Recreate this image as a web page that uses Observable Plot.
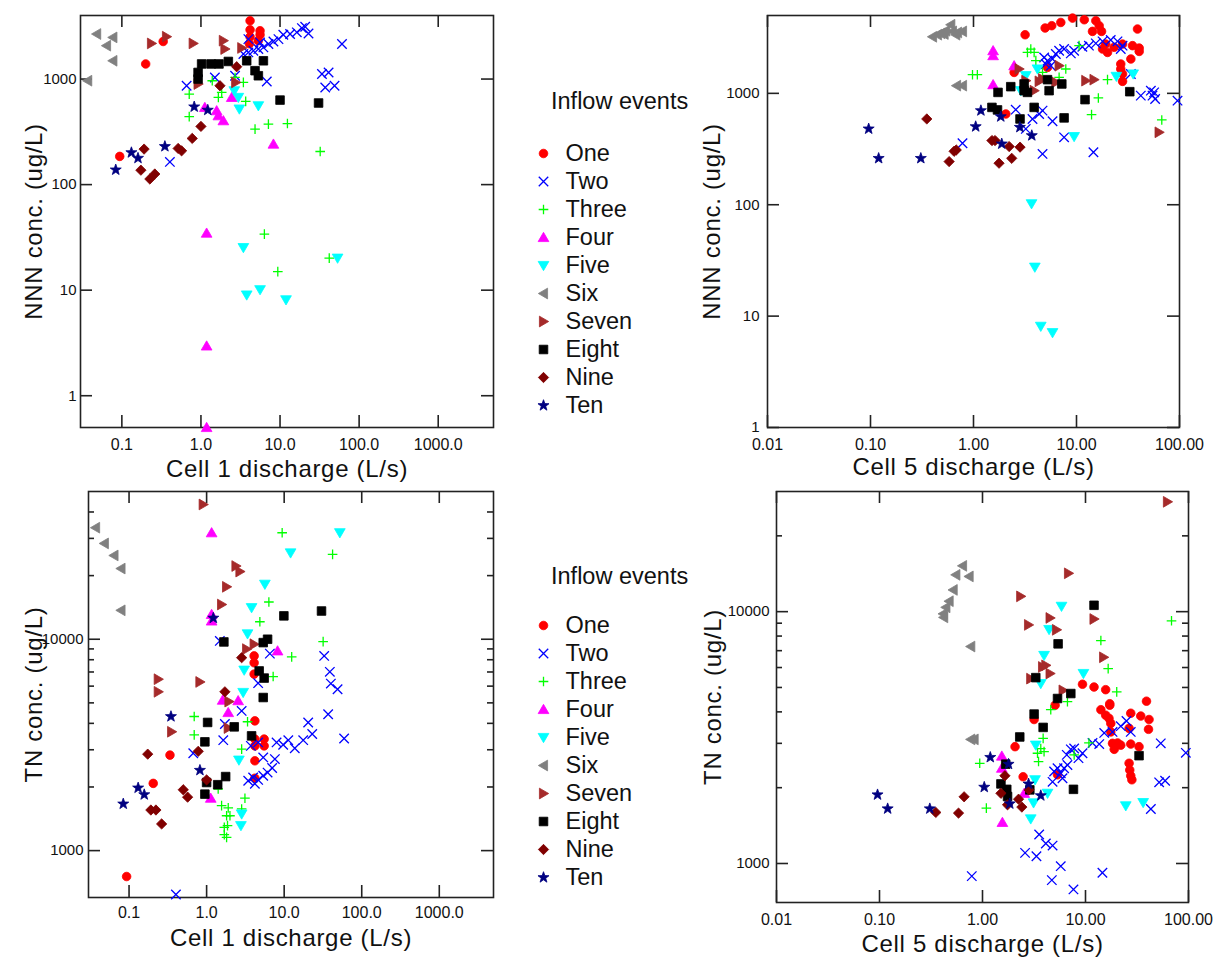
<!DOCTYPE html>
<html>
<head>
<meta charset="utf-8">
<script src="https://cdn.jsdelivr.net/npm/d3@7"></script>
<script src="https://cdn.jsdelivr.net/npm/@observablehq/plot@0.6"></script>
<style>
  html, body { margin: 0; padding: 0; background: #fff; }
  #root { position: relative; width: 1222px; height: 959px; overflow: hidden;
          font-family: "Liberation Sans", Arial, sans-serif; color: #111; }
  .panel { position: absolute; }
  .panel g[aria-label="text"] text.title { letter-spacing: 0.7px; }
  .ltitle { position: absolute; font-size: 23.5px; line-height: 1; white-space: nowrap; color: #111; }
</style>
</head>
<body>
<div id="root"></div>
<script>
// ---------- series definitions ----------
const seriesNames  = ["One","Two","Three","Four","Five","Six","Seven","Eight","Nine","Ten"];
const seriesColors = ["#ff0000","#0000ff","#00ff00","#ff00ff","#00ffff","#808080","#a52a2a","#000000","#800000","#000080"];
const legendTitle = "Inflow events";

// ---------- tick values and labels ----------
const xTicksCell1 = [0.1, 1, 10, 100, 1000];
const xTicksCell5 = [0.01, 0.1, 1, 10, 100];
const yTicksNNN   = [1, 10, 100, 1000];
const yTicksTN    = [1000, 10000];
const yMinorTN1   = [2000,3000,4000,5000,6000,7000,8000,9000,20000,30000,40000];
const yMinorTN5   = [2000,3000,4000,5000,6000,7000,8000,9000,20000];

// ---------- Panel A: Cell 1 discharge vs NNN ----------
const c1nnnOne   = [[0.20,1390],[0.333,2270],[0.094,185],[4.18,3570],[4.18,2930],[4.18,2515],[4.1,2160],[5.59,2870],[5.59,2630],[5.3,2310]];
const c1nnnTwo   = [[0.659,864],[1.50,1035],[2.70,1075],[6.8,949],[0.405,164],[60.7,2150],[33.9,1115],[41.1,1155],[37.3,832],[48.9,864],[3.44,1725],[3.98,1788],[4.60,1855],[5.32,1925],[6.16,1995],[7.13,2150],[8.25,2270],[9.55,2390],[11.0,2630],[13.4,2670],[16.3,2770],[18.9,3040],[20.8,3130],[22.9,2700],[3.98,2390],[5.59,2220]];
const c1nnnThree = [[1.39,964],[2.70,1035],[3.44,929],[1.66,670],[1.83,747],[0.711,720],[0.711,440],[3.68,614],[4.83,335],[7.13,374],[12.4,379],[32.2,206],[6.34,34],[9.37,15.0],[41.9,20.1]];
const c1nnnFour  = [[1.12,538],[1.58,501],[1.66,449],[1.92,403],[2.45,670],[8.25,242],[1.18,34.7],[1.18,2.96],[1.18,0.5]];
const c1nnnFive  = [[2.64,774],[2.97,670],[3.06,520],[5.32,558],[3.44,25.3],[3.79,9.0],[5.59,10.1],[11.9,8.1],[53.4,20.1]];
const c1nnnSix   = [[0.048,2670],[0.077,2480],[0.064,2070],[0.077,1490],[0.037,964]];
const c1nnnSeven = [[0.237,2175],[0.367,2520],[0.798,2175],[1.92,2310],[2.01,1925],[3.28,1970],[0.92,897],[2.75,929]];
const c1nnnEight = [[0.92,1155],[0.92,1000],[1.02,1390],[1.34,1390],[1.69,1390],[2.22,1468],[3.79,1490],[4.83,1200],[5.32,1075],[6.16,1490],[10.0,632],[30.7,593]];
const c1nnnNine  = [[2.83,1308],[1.74,864],[1.0,356],[0.776,274],[0.515,220],[0.569,209],[0.191,217],[0.174,137],[0.226,113],[0.261,126]];
const c1nnnTen   = [[0.822,546],[1.22,508],[0.132,201],[0.16,178],[0.35,230],[0.0837,138]];

// ---------- Panel B: Cell 5 discharge vs NNN ----------
const c5nnnOne   = [[3.17,3360],[4.96,3860],[5.75,4050],[7.04,4330],[9.15,4740],[11.9,4580],[15.4,4490],[16.6,4050],[17.5,3600],[14.3,3600],[39.1,3780],[19.2,2770],[17.9,2500],[20.0,2330],[23.2,2590],[28.0,2770],[35.0,2680],[40.6,2550],[40.6,2380],[33.7,2035],[26.9,1835],[26.9,1655],[28.0,1493],[28.0,1282],[2.48,1542],[2.06,653],[5.23,1710]];
const c5nnnTwo   = [[2.57,714],[3.22,480],[3.74,589],[4.34,653],[4.68,700],[5.85,561],[4.68,286],[7.58,403],[14.6,296],[0.782,356],[4.85,2100],[5.23,1965],[5.85,2035],[6.3,2255],[6.78,2415],[7.58,2500],[8.81,2285],[9.48,2415],[11.4,2620],[13.2,2680],[15.4,2810],[17.9,2930],[21.5,3010],[25.0,2930],[28.0,2680],[26.9,2500],[5.04,1835],[5.63,1770],[33.7,1493],[42.1,954],[52.7,1057],[54.7,954],[56.7,1020],[58,891],[95.7,860]];
const c5nnnThree = [[0.978,1470],[1.09,1470],[3.34,2330],[3.6,2500],[3.88,2330],[4.03,1965],[4.68,1542],[7.87,1655],[6.78,1390],[10.6,2680],[20.0,1327],[16.3,909],[14.0,644],[67.3,577]];
const c5nnnFour  = [[1.55,2415],[1.55,2180],[1.55,1197],[2.48,1770]];
const c5nnnFive  = [[3.22,1441],[4.18,1655],[2.88,1057],[9.48,409],[24.4,1420],[35.5,1493],[3.66,102],[3.94,27.5],[4.5,8.1],[5.85,7.1]];
const c5nnnSix   = [[0.40,3220],[0.447,3360],[0.482,3450],[0.518,3410],[0.538,3650],[0.602,4130],[0.625,3600],[0.673,3360],[0.70,3520],[0.782,3600],[0.684,1172],[0.782,1172]];
const c5nnnSeven = [[2.77,1655],[4.34,1282],[6.3,1255],[6.78,1770],[12.3,1300],[14.8,1327],[63.4,447],[3.22,1300],[4.68,1346],[3.88,1057]];
const c5nnnEight = [[1.73,1020],[2.3,1148],[3.1,1214],[3.1,1057],[3.34,1020],[5.23,1327],[5.42,1057],[7.2,1214],[1.51,748],[1.71,710],[2.83,589],[3.88,748],[7.58,602],[12.1,878],[32.9,1035]];
const c5nnnNine  = [[0.352,589],[0.648,302],[0.68,310],[0.58,244],[1.51,377],[1.62,377],[2.22,333],[2.83,329],[2.35,261],[1.77,236]];
const c5nnnTen   = [[0.096,480],[0.12,261],[0.308,261],[1.05,503],[1.18,700],[1.84,618],[2.82,496],[1.88,352],[3.68,418]];

// ---------- Panel C: Cell 1 discharge vs TN ----------
const c1tnOne   = [[4.1,8340],[4.1,7740],[4.1,6840],[4.19,4110],[4.19,3370],[5.52,3370],[5.52,3130],[4.19,3130],[4.19,2660],[4.19,2200],[0.337,2830],[0.205,2080],[0.093,754]];
const c1tnTwo   = [[6.54,8550],[32.8,8340],[38.8,7010],[40.0,6170],[48.8,5800],[4.62,6200],[1.48,9820],[2.83,4580],[1.72,3970],[1.64,3330],[0.673,2890],[4.62,3250],[3.72,3130],[5.37,2760],[7.59,2710],[7.98,3250],[9.71,3170],[11.3,3330],[13.7,3050],[17.6,3330],[20.4,4040],[23.0,3560],[36.9,4420],[59.3,3390],[3.44,2140],[3.98,2220],[4.19,2070],[4.62,2160],[5.37,2260],[6.11,2340],[7.0,2460],[0.402,620]];
const c1tnThree = [[9.42,31900],[42.1,25200],[6.35,15000],[4.86,12100],[31.8,9750],[12.5,8250],[7.21,6660],[0.692,4310],[0.692,3530],[3.37,4070],[2.83,3020],[1.41,1956],[3.12,1770],[2.83,1574],[1.56,1633],[1.9,1592],[1.81,1462],[2.0,1462],[1.69,1288],[1.86,1312],[1.69,1190],[1.81,1155]];
const c1tnFour  = [[1.16,31900],[1.16,13100],[1.16,12200],[8.22,8810],[1.61,5150],[2.55,5120],[1.9,4500],[1.13,1770]];
const c1tnFive  = [[52.2,31900],[12.1,25600],[5.64,18200],[3.8,14100],[3.37,10600],[3.05,7140],[2.96,5600],[2.61,2680],[2.83,1490],[2.77,1312]];
const c1tnSix   = [[0.037,33700],[0.048,28400],[0.0639,24900],[0.0787,21600],[0.0787,13700]];
const c1tnSeven = [[0.904,43400],[2.39,22200],[2.69,20900],[1.81,17700],[1.56,14600],[0.238,6470],[0.82,6280],[0.238,5640],[3.28,8980],[4.1,9470],[1.94,5070],[0.354,3650],[1.9,3800]];
const c1tnEight = [[9.91,12900],[30.3,13600],[1.67,9710],[5.37,9640],[6.11,10000],[4.76,7080],[5.52,6550],[5.37,5300],[1.03,4040],[2.27,3850],[3.8,3490],[0.95,3270],[1.76,2240],[1.39,2050],[1.0,2100],[0.95,1850]];
const c1tnNine  = [[2.83,8180],[1.72,5640],[0.174,2860],[0.78,2950],[1.0,2160],[0.5,1940],[0.569,1790],[0.191,1556],[0.222,1556],[0.263,1337]];
const c1tnTen   = [[1.22,12600],[0.347,4310],[0.82,2400],[0.131,1980],[0.157,1840],[0.0842,1663]];

// ---------- Panel D: Cell 5 discharge vs TN ----------
const c5tnOne   = [[9.35,5150],[12.1,5020],[15.7,4900],[17.2,4310],[39.1,4410],[5.07,4250],[3.17,3730],[2.07,2910],[2.48,2210],[5.35,2250],[14.1,4080],[15.7,3880],[16.9,3770],[17.6,3600],[17.2,4250],[27.5,3950],[34.4,3850],[41.4,3730],[40.9,3410],[26.5,3440],[18.3,3000],[20.5,3010],[22.0,2950],[27.5,2980],[19.0,2840],[33.1,2910],[26.5,2500],[26.9,2350],[27.5,2230],[28.2,2150],[17.6,3330]];
const c5tnTwo   = [[3.55,1303],[4.12,1200],[4.79,1178],[2.59,1102],[3.34,1069],[5.75,976],[4.71,859],[7.64,789],[14.6,919],[0.787,891],[4.79,2110],[4.96,2320],[5.35,2390],[5.75,2280],[5.98,2180],[6.2,2390],[6.68,2460],[6.58,2700],[7.2,2840],[7.76,2860],[8.55,2620],[9.35,2740],[11.7,3010],[13.6,2980],[15.2,3300],[18.3,3330],[22.0,3510],[25.0,3680],[27.5,3330],[53.8,3000],[94.2,2750],[51.9,2100],[59.3,2130],[43.1,1645]];
const c5tnThree = [[68.4,9200],[14.1,7680],[16.6,5940],[20.1,4800],[6.68,4390],[4.6,4080],[3.88,3140],[3.68,2860],[3.42,2740],[3.5,2540],[3.96,2780],[10.8,3010],[7.76,2700],[0.94,2500],[1.09,1660]];
const c5tnFour  = [[1.54,2670],[1.54,2390],[1.56,1456],[2.54,1900]];
const c5tnFive  = [[5.85,10500],[4.43,8490],[3.96,6700],[9.55,5680],[3.68,5180],[3.29,2950],[3.24,2150],[3.13,1740],[2.94,1503],[4.28,1900],[24.6,1694],[36.3,1745]];
const c5tnSix   = [[0.64,15200],[0.551,14000],[0.741,13800],[0.519,12200],[0.474,11000],[0.441,10400],[0.415,9800],[0.42,9490],[0.769,7270],[0.769,3110],[0.829,3110]];
const c5tnSeven = [[62.5,27300],[6.84,14200],[2.35,11500],[2.8,8860],[4.53,9440],[5.23,8470],[12.1,9350],[15.0,6590],[3.83,6030],[4.12,6120],[4.53,5680],[2.94,5420],[6.06,4870]];
const c5tnEight = [[12.1,10600],[5.42,7450],[3.29,5470],[5.35,4520],[7.2,4730],[3.17,3920],[3.88,3470],[2.3,3180],[33.1,2680],[1.68,2480],[1.51,2070],[1.72,1970],[1.75,1845],[2.88,1960],[7.64,1970]];
const c5tnNine  = [[1.65,2230],[1.51,1900],[1.75,1710],[2.24,1800],[2.41,1675],[2.83,1960],[0.663,1840],[0.585,1585],[0.352,1595]];
const c5tnTen   = [[0.0957,1875],[0.12,1650],[0.308,1650],[1.04,2010],[1.19,2640],[1.79,2480],[1.84,1727],[2.8,2070],[3.68,1860]];

// ---------- marker shapes ----------
function unit(size) { return Math.sqrt(size / Math.PI); }
function polySymbol(pts) {
  return { draw(ctx, size) {
    const h = unit(size);
    ctx.moveTo(pts[0][0] * h, pts[0][1] * h);
    for (let k = 1; k < pts.length; k++) ctx.lineTo(pts[k][0] * h, pts[k][1] * h);
    ctx.closePath();
  }};
}
const symCircle = { draw(ctx, size) { const h = unit(size); ctx.moveTo(h, 0); ctx.arc(0, 0, h, 0, 2 * Math.PI); } };
const symTimes  = { draw(ctx, size) { const h = unit(size) * 1.1; ctx.moveTo(-h, -h); ctx.lineTo(h, h); ctx.moveTo(-h, h); ctx.lineTo(h, -h); } };
const symPlus   = { draw(ctx, size) { const h = unit(size) * 1.12; ctx.moveTo(-h, 0); ctx.lineTo(h, 0); ctx.moveTo(0, -h); ctx.lineTo(0, h); } };
const symUp     = polySymbol([[0,-1.2],[1.25,0.95],[-1.25,0.95]]);
const symDown   = polySymbol([[0,1.2],[1.25,-0.95],[-1.25,-0.95]]);
const symLeft   = polySymbol([[-1.2,0],[0.95,-1.25],[0.95,1.25]]);
const symRight  = polySymbol([[1.2,0],[-0.95,-1.25],[-0.95,1.25]]);
const symSquare = polySymbol([[-1,-1],[1,-1],[1,1],[-1,1]]);
const symDiam   = polySymbol([[0,-1.2],[1.2,0],[0,1.2],[-1.2,0]]);
const symStar   = { draw(ctx, size) {
  const h = unit(size), R = 1.35 * h, r = 0.55 * h;
  for (let k = 0; k < 10; k++) {
    const a = -Math.PI / 2 + k * Math.PI / 5, rad = k % 2 ? r : R;
    const px = rad * Math.cos(a), py = rad * Math.sin(a);
    if (k) ctx.lineTo(px, py); else ctx.moveTo(px, py);
  }
  ctx.closePath();
}};
const seriesSymbols = [symCircle, symTimes, symPlus, symUp, symDown, symLeft, symRight, symSquare, symDiam, symStar];
const strokeOnly = [false, true, true, false, false, false, false, false, false, false];

const FONT = "'Liberation Sans', Arial, Helvetica, sans-serif";
const AXIS = "#222";
const root = document.getElementById("root");

function seriesMarks(list) {
  return list.map((pts, i) => Plot.dot(pts, {
    x: d => d[0], y: d => d[1],
    symbol: seriesSymbols[i],
    fill: strokeOnly[i] ? "none" : seriesColors[i],
    stroke: seriesColors[i],
    strokeWidth: strokeOnly[i] ? 1.3 : 0.8,
    r: 4.3
  }));
}

function buildPanel(cfg) {
  const fw = cfg.width - cfg.mL - cfg.mR;   // frame width in px
  const fh = cfg.height - cfg.mT - cfg.mB;  // frame height in px
  const tk = { stroke: AXIS, strokeWidth: 1.6 };
  const marks = [
    Plot.frame({ stroke: AXIS, strokeWidth: 1.6 }),
    // inward major ticks on all four sides
    Plot.tickX(cfg.xTicks, { ...tk, x: d => d, insetTop: fh - 12 }),
    Plot.tickX(cfg.xTicks, { ...tk, x: d => d, insetBottom: fh - 12 }),
    Plot.tickY(cfg.yTicks, { ...tk, y: d => d, insetRight: fw - 12 }),
    Plot.tickY(cfg.yTicks, { ...tk, y: d => d, insetLeft: fw - 12 })
  ];
  if (cfg.yMinor) {
    marks.push(Plot.tickY(cfg.yMinor, { ...tk, y: d => d, insetRight: fw - 6 }));
    marks.push(Plot.tickY(cfg.yMinor, { ...tk, y: d => d, insetLeft: fw - 6 }));
  }
  marks.push(Plot.axisX({ anchor: "bottom", ticks: cfg.xTicks, tickSize: 0, tickPadding: cfg.xPad,
    tickFormat: cfg.xFmt, fontSize: 16, label: null, fill: "#111" }));
  marks.push(Plot.axisY({ anchor: "left", ticks: cfg.yTicks, tickSize: 0, tickPadding: cfg.yPad,
    tickFormat: d3.format("d"), fontSize: 15, label: null, fill: "#111" }));
  marks.push(...seriesMarks(cfg.series));
  marks.push(Plot.text([cfg.xLabel], { frameAnchor: "bottom", dy: cfg.xLabelDy, text: d => d,
    textAnchor: "middle", lineAnchor: "middle", fontSize: 24, fill: "#111" }));
  marks.push(Plot.text([cfg.yLabel], { frameAnchor: "left", dx: cfg.yLabelDx, rotate: -90, text: d => d,
    textAnchor: "middle", lineAnchor: "middle", fontSize: 24, fill: "#111" }));

  const svg = Plot.plot({
    width: cfg.width, height: cfg.height,
    marginLeft: cfg.mL, marginRight: cfg.mR, marginTop: cfg.mT, marginBottom: cfg.mB,
    x: { type: "log", domain: cfg.xDomain },
    y: { type: "log", domain: cfg.yDomain },
    style: { fontFamily: FONT, overflow: "visible", color: "#111", background: "transparent" },
    marks
  });
  // slightly wider tracking on the axis titles, as in the reference
  d3.select(svg).selectAll('g[aria-label="text"] text').classed("title", true);
  svg.classList.add("panel");
  svg.style.left = cfg.left + "px";
  svg.style.top = cfg.top + "px";
  root.appendChild(svg);
}

function buildLegend(left, top, height, firstRow, lastRow) {
  const marks = [];
  seriesNames.forEach((n, i) => {
    marks.push(Plot.dot([n], {
      y: d => d, frameAnchor: "left",
      symbol: seriesSymbols[i],
      fill: strokeOnly[i] ? "none" : seriesColors[i],
      stroke: seriesColors[i],
      strokeWidth: strokeOnly[i] ? 1.3 : 0.8, r: 4.3
    }));
  });
  marks.push(Plot.text(seriesNames, { y: d => d, frameAnchor: "left", dx: 22, text: d => d,
    textAnchor: "start", lineAnchor: "middle", fontSize: 23.5, fill: "#111" }));
  const svg = Plot.plot({
    width: 150, height,
    marginLeft: 13, marginRight: 0, marginTop: 0, marginBottom: 0,
    y: { type: "point", domain: seriesNames, range: [firstRow - top, lastRow - top], padding: 0, axis: null },
    style: { fontFamily: FONT, overflow: "visible", background: "transparent" },
    marks
  });
  svg.classList.add("panel");
  svg.style.left = left + "px";
  svg.style.top = top + "px";
  root.appendChild(svg);
}

function addTitle(text, left, top) {
  const d = document.createElement("div");
  d.className = "ltitle";
  d.textContent = text;
  d.style.left = left + "px";
  d.style.top = top + "px";
  root.appendChild(d);
}

// Panel A
buildPanel({
  left: 0, top: 0, width: 501, height: 480, mL: 80, mR: 8, mT: 15, mB: 53,
  xDomain: [0.03, 5000], yDomain: [0.5, 4000],
  xTicks: xTicksCell1, yTicks: yTicksNNN, xFmt: d3.format(".1f"),
  xPad: 11, yPad: 4, xLabelDy: 42, yLabelDx: -46.5,
  xLabel: "Cell 1 discharge (L/s)", yLabel: "NNN conc. (ug/L)",
  series: [c1nnnOne, c1nnnTwo, c1nnnThree, c1nnnFour, c1nnnFive, c1nnnSix, c1nnnSeven, c1nnnEight, c1nnnNine, c1nnnTen]
});
// Panel B
buildPanel({
  left: 690, top: 0, width: 530, height: 480, mL: 77, mR: 41, mT: 15, mB: 53,
  xDomain: [0.01, 100], yDomain: [1, 5000],
  xTicks: xTicksCell5, yTicks: yTicksNNN, xFmt: d3.format(".2f"),
  xPad: 11, yPad: 8, xLabelDy: 40, yLabelDx: -55,
  xLabel: "Cell 5 discharge (L/s)", yLabel: "NNN conc. (ug/L)",
  series: [c5nnnOne, c5nnnTwo, c5nnnThree, c5nnnFour, c5nnnFive, c5nnnSix, c5nnnSeven, c5nnnEight, c5nnnNine, c5nnnTen]
});
// Panel C
buildPanel({
  left: 0, top: 476, width: 501, height: 483, mL: 88, mR: 8, mT: 15, mB: 62,
  xDomain: [0.03, 5000], yDomain: [600, 50000],
  xTicks: xTicksCell1, yTicks: yTicksTN, yMinor: yMinorTN1, xFmt: d3.format(".1f"),
  xPad: 9, yPad: 5, xLabelDy: 41, yLabelDx: -54.5,
  xLabel: "Cell 1 discharge (L/s)", yLabel: "TN conc. (ug/L)",
  series: [c1tnOne, c1tnTwo, c1tnThree, c1tnFour, c1tnFive, c1tnSix, c1tnSeven, c1tnEight, c1tnNine, c1tnTen]
});
// Panel D
buildPanel({
  left: 690, top: 476, width: 530, height: 483, mL: 86, mR: 32, mT: 15, mB: 57,
  xDomain: [0.01, 100], yDomain: [700, 30000],
  xTicks: xTicksCell5, yTicks: yTicksTN, yMinor: yMinorTN5, xFmt: d3.format(".2f"),
  xPad: 11, yPad: 7, xLabelDy: 42, yLabelDx: -63.5,
  xLabel: "Cell 5 discharge (L/s)", yLabel: "TN conc. (ug/L)",
  series: [c5tnOne, c5tnTwo, c5tnThree, c5tnFour, c5tnFive, c5tnSix, c5tnSeven, c5tnEight, c5tnNine, c5tnTen]
});

// Legends
addTitle(legendTitle, 551, 90);
buildLegend(530, 130, 300, 149, 408);
addTitle(legendTitle, 551, 565);
buildLegend(530, 603, 300, 622, 879);
</script>
</body>
</html>
